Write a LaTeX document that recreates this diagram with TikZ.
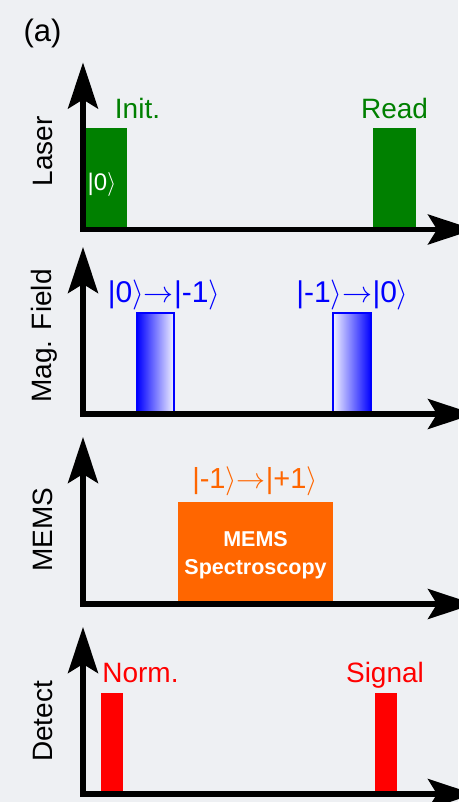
\RequirePackage{fix-cm}
\documentclass[tikz,border=0pt]{standalone}
\usepackage{fontspec}
\setmainfont{Liberation Sans}
\usetikzlibrary{arrows.meta}
\definecolor{bg}{RGB}{238,240,243}
\definecolor{cgreen}{RGB}{0,128,0}
\definecolor{cblue}{RGB}{0,0,255}
\definecolor{corange}{RGB}{255,102,0}
\definecolor{cred}{RGB}{255,0,0}
\newcommand\myket[1]{|#1$\rangle$}
\newcommand\myto{$\rightarrow$}
\begin{document}
\begin{tikzpicture}[x=1pt,y=-1pt,
  axis/.style={line width=5.5pt, line join=miter,
    {Stealth[length=46pt,width=30pt,inset=9pt]}-{Stealth[length=46pt,width=30pt,inset=9pt]}},
  lbl/.style={font=\fontsize{28}{30}\selectfont, anchor=base, inner sep=0pt},
  ketlbl/.style={font=\fontsize{30}{32}\selectfont, anchor=base, inner sep=0pt},
  ylab/.style={font=\fontsize{28}{30}\selectfont, rotate=90, anchor=base, inner sep=0pt},
  intext/.style={text=white, font=\fontsize{21.5}{24}\selectfont\bfseries, anchor=base, inner sep=0pt},
  ]
\useasboundingbox (0,0) rectangle (458,802);
\fill[bg] (0,0) rectangle (458,802);

\foreach \n/\ay in {1/229.5, 2/414, 3/604, 4/794} {
  \coordinate (o\n) at (83,\ay);
  \coordinate (t\n) at (83,\ay-167);
  \coordinate (e\n) at (474,\ay);
}

% panel label
\node[lbl, font=\fontsize{31}{33}\selectfont] (lab) at (42.5,42) {(a)};

% Laser
\fill[cgreen] (85,128) rectangle (127,229.5);
\fill[cgreen] (373,128) rectangle (416,229.5);
\node[lbl, text=cgreen] (init) at (137.5,119) {Init.};
\node[lbl, text=cgreen] (read) at (394.5,119) {Read};
\node[ketlbl, text=white, font=\fontsize{24}{26}\selectfont] (k0) at (102,191) {\myket{0}};
\node[ylab] (ylaser) at (52,151.5) {Laser};

% Mag. Field
\shade[left color=cblue, middle color=cblue!55, right color=cblue!5] (137,313) rectangle (174,414);
\draw[cblue, line width=1.3pt] (137,414) -- (137,313) -- (174,313) -- (174,414);
\shade[left color=cblue!5, middle color=cblue!55, right color=cblue] (333,313) rectangle (371,414);
\draw[cblue, line width=1.3pt] (333,414) -- (333,313) -- (371,313) -- (371,414);
\node[ketlbl, text=cblue] (mw1) at (164,302) {\myket{0}\myto\myket{-1}};
\node[ketlbl, text=cblue] (mw2) at (352.5,302) {\myket{-1}\myto\myket{0}};
\node[ylab] (ymag) at (51.5,336) {Mag. Field};

% MEMS
\fill[corange] (178,502) rectangle (333,604);
\node[intext] (mems1) at (255.5,546) {MEMS};
\node[intext] (mems2) at (255.5,574) {Spectroscopy};
\node[ketlbl, text=corange, font=\fontsize{29}{31}\selectfont] (memsk) at (255,488) {\myket{-1}\myto\myket{+1}};
\node[ylab] (ymems) at (52,529.5) {MEMS};

% Detect
\fill[cred] (101,693) rectangle (123,794);
\fill[cred] (375,693) rectangle (397,794);
\node[lbl, text=cred] (norm) at (140.5,682) {Norm.};
\node[lbl, text=cred] (sig) at (385,682) {Signal};
\node[ylab] (ydet) at (52,721.5) {Detect};

% axes
\foreach \n in {1,2,3,4} {
  \draw[axis] (t\n) -- (o\n) -- (e\n);
}
\end{tikzpicture}
\end{document}
